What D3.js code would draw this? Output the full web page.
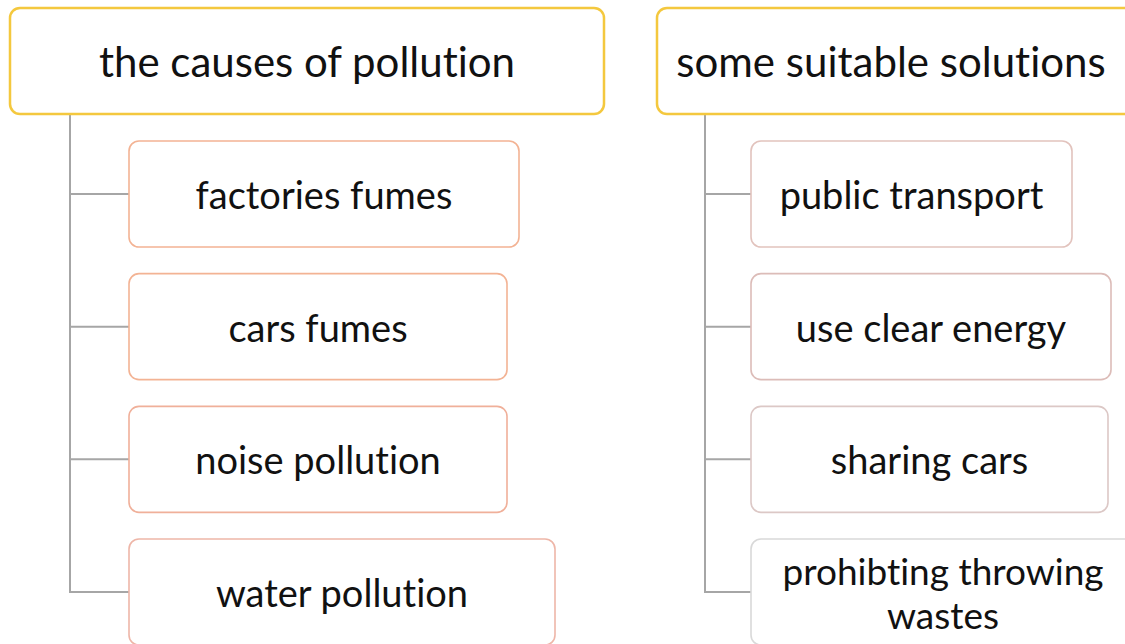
<!DOCTYPE html>
<html>
<head>
<meta charset="utf-8">
<script src="https://cdn.jsdelivr.net/npm/d3@7"></script>
<style>
  html, body { margin: 0; padding: 0; background: #ffffff; }
  svg { display: block; }
  text { font-family: Lato, "Noto Sans", sans-serif; fill: #111; font-variant-ligatures: none; font-feature-settings: "liga" 0; }
</style>
</head>
<body>
<svg id="chart" width="1125" height="644"></svg>
<script>
// ---- data ----
const titles = ["the causes of pollution", "some suitable solutions"];
const causes = ["factories fumes", "cars fumes", "noise pollution", "water pollution"];
const solutions = ["public transport", "use clear energy", "sharing cars", "prohibting throwing wastes"];

// ---- layout (sizes / styles) ----
const layout = [
  { title: titles[0], items: causes, headX: 10, headW: 594, textX: 307, trunkX: 70, boxX: 129,
    widths: [390, 378, 378, 426], itemStroke: ["#f3b394", "#f3b394", "#f0b09a", "#eeb6a8"] },
  { title: titles[1], items: solutions, headX: 657, headW: 480, textX: 891, trunkX: 705, boxX: 751,
    widths: [321, 360, 357, 384], itemStroke: ["#e2c3bd", "#dcbcb8", "#dcc8c6", "#d9d9d9"] }
];
const headY = 8, headH = 106, boxH = 106;
const headFont = 42, itemFont = 38;
const row = d3.scaleLinear().domain([0, 3]).range([141, 539]);

const svg = d3.select("#chart");

layout.forEach(g => {
  const grp = svg.append("g");
  // trunk
  grp.append("line")
    .attr("x1", g.trunkX).attr("x2", g.trunkX)
    .attr("y1", headY + headH).attr("y2", row(g.items.length - 1) + boxH / 2)
    .attr("stroke", "#a6a6a6").attr("stroke-width", 2);
  // branches
  grp.selectAll("line.branch").data(g.items).join("line")
    .attr("class", "branch")
    .attr("x1", g.trunkX - 1).attr("x2", g.boxX)
    .attr("y1", (d, i) => row(i) + boxH / 2).attr("y2", (d, i) => row(i) + boxH / 2)
    .attr("stroke", "#a6a6a6").attr("stroke-width", 2);
  // header
  grp.append("rect")
    .attr("x", g.headX).attr("y", headY).attr("width", g.headW).attr("height", headH)
    .attr("rx", 10).attr("ry", 10)
    .attr("fill", "#fff").attr("stroke", "#f4c83e").attr("stroke-width", 2.5);
  grp.append("text")
    .attr("x", g.textX)
    .attr("y", headY + headH / 2)
    .attr("text-anchor", "middle").attr("dominant-baseline", "central")
    .attr("font-size", headFont)
    .text(g.title);
  // items
  const items = grp.selectAll("g.item").data(g.items).join("g").attr("class", "item");
  items.append("rect")
    .attr("x", g.boxX).attr("y", (d, i) => row(i))
    .attr("width", (d, i) => g.widths[i]).attr("height", boxH)
    .attr("rx", 10).attr("ry", 10)
    .attr("fill", "#fff")
    .attr("stroke", (d, i) => g.itemStroke[i]).attr("stroke-width", 1.6);
  items.each(function(d, i) {
    const cx = g.boxX + g.widths[i] / 2;
    const cy = row(i) + boxH / 2;
    // simple word wrap to fit box
    const maxW = g.widths[i] - 36;
    const words = d.split(" ");
    const lines = [];
    let cur = "";
    const probe = d3.select(this).append("text").attr("font-size", itemFont).style("visibility", "hidden");
    words.forEach(w => {
      const test = cur ? cur + " " + w : w;
      probe.text(test);
      if (probe.node().getComputedTextLength() > maxW && cur) { lines.push(cur); cur = w; }
      else cur = test;
    });
    lines.push(cur);
    probe.remove();
    const lh = 44;
    const fs = lines.length > 1 ? itemFont - 1 : itemFont;
    lines.forEach((ln, k) => {
      d3.select(this).append("text")
        .attr("text-anchor", "middle")
        .attr("font-size", fs)
        .attr("x", cx)
        .attr("y", cy + (k - (lines.length - 1) / 2) * lh)
        .attr("dominant-baseline", "central")
        .text(ln);
    });
  });
});
</script>
</body>
</html>
